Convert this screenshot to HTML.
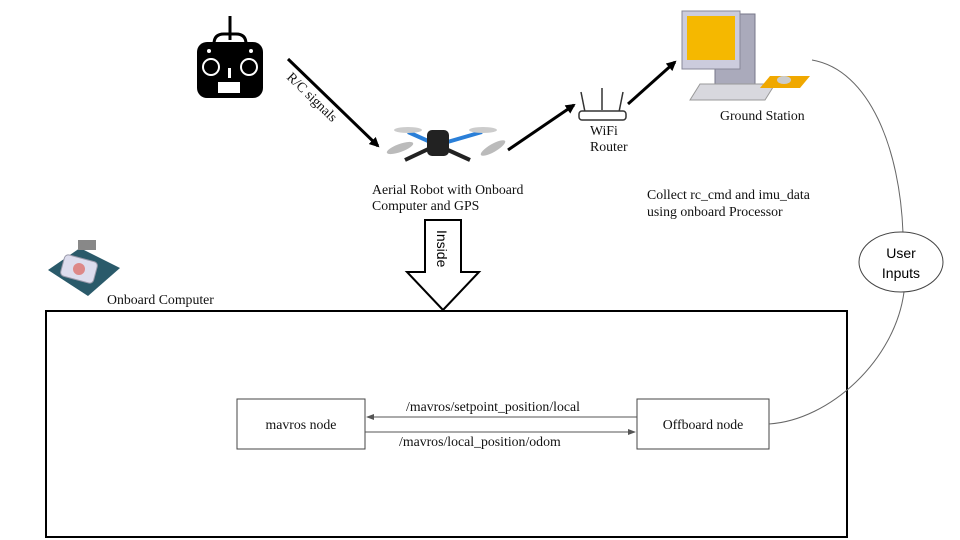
<!DOCTYPE html>
<html><head><meta charset="utf-8"><style>
body{margin:0;background:#fff;}
svg{display:block}
.s{font-family:"Liberation Serif",serif;font-size:13.8px;fill:#111}
</style></head><body>
<svg width="960" height="540" viewBox="0 0 960 540" xmlns="http://www.w3.org/2000/svg">
<defs>
<marker id="ab" markerWidth="10" markerHeight="10" refX="8" refY="5" orient="auto" markerUnits="userSpaceOnUse"><path d="M0,0 L10,5 L0,10 z" fill="#000"/></marker>
<marker id="as" markerWidth="8" markerHeight="6" refX="7" refY="3" orient="auto" markerUnits="userSpaceOnUse"><path d="M0,0 L8,3 L0,6 z" fill="#555"/></marker>
</defs>
<!-- RC controller -->
<g>
<line x1="230" y1="16" x2="230" y2="40" stroke="#000" stroke-width="3"/>
<path d="M214,44 q0,-10 10,-10 h12 q10,0 10,10" fill="none" stroke="#000" stroke-width="3"/>
<rect x="197" y="42" width="66" height="56" rx="10" fill="#000"/>
<circle cx="211" cy="67" r="8" fill="none" stroke="#fff" stroke-width="2"/>
<circle cx="249" cy="67" r="8" fill="none" stroke="#fff" stroke-width="2"/>
<rect x="218" y="82" width="22" height="11" fill="#fff"/>
<rect x="228" y="68" width="3" height="10" fill="#fff"/>
<circle cx="209" cy="51" r="2" fill="#fff"/><circle cx="251" cy="51" r="2" fill="#fff"/>
</g>
<!-- R/C arrow -->
<line x1="288" y1="59" x2="378" y2="146" stroke="#000" stroke-width="3" marker-end="url(#ab)"/>
<text class="s" transform="translate(286,78) rotate(44)" font-size="12">R/C signals</text>
<!-- drone -->
<g>
<path d="M405,160 L437,145 L470,160" stroke="#222" stroke-width="4" fill="none"/>
<path d="M408,132 L437,145 L482,132" stroke="#2a7fd8" stroke-width="4" fill="none"/>
<rect x="427" y="130" width="22" height="26" rx="5" fill="#222"/>
<ellipse cx="400" cy="148" rx="14" ry="4" fill="#bbb" transform="rotate(-20 400 148)"/>
<ellipse cx="493" cy="148" rx="14" ry="4" fill="#bbb" transform="rotate(-30 493 148)"/>
<ellipse cx="408" cy="130" rx="14" ry="3" fill="#ccc"/>
<ellipse cx="483" cy="130" rx="14" ry="3" fill="#ccc"/>
</g>
<text class="s" x="372" y="194">Aerial Robot with Onboard</text>
<text class="s" x="372" y="210">Computer and GPS</text>
<!-- arrow to router -->
<line x1="508" y1="150" x2="574" y2="105" stroke="#000" stroke-width="3" marker-end="url(#ab)"/>
<!-- router -->
<g stroke="#333" fill="none" stroke-width="1.5">
<line x1="585" y1="112" x2="581" y2="92"/><line x1="602" y1="110" x2="602" y2="88"/><line x1="619" y1="112" x2="623" y2="92"/>
<rect x="579" y="111" width="47" height="9" rx="3" fill="#fff"/>
</g>
<text class="s" x="590" y="135">WiFi</text>
<text class="s" x="590" y="151">Router</text>
<!-- arrow to ground station -->
<line x1="628" y1="104" x2="675" y2="62" stroke="#000" stroke-width="3" marker-end="url(#ab)"/>
<!-- computer -->
<g>
<rect x="715" y="14" width="40" height="70" fill="#aab" stroke="#778"/>
<rect x="682" y="11" width="58" height="58" fill="#ccd" stroke="#889"/>
<rect x="687" y="16" width="48" height="44" fill="#f5b800"/>
<path d="M700,84 L775,84 L765,100 L690,100 z" fill="#d8d8de" stroke="#999"/>
<path d="M770,76 L810,76 L800,88 L760,88 z" fill="#f0a800"/>
<ellipse cx="784" cy="80" rx="7" ry="4" fill="#ccc"/>
</g>
<text class="s" x="720" y="120">Ground Station</text>
<text class="s" x="647" y="199">Collect rc_cmd and imu_data</text>
<text class="s" x="647" y="216">using onboard Processor</text>
<!-- Inside arrow -->
<path d="M425,220 L461,220 L461,272 L479,272 L443,310 L407,272 L425,272 z" fill="#fff" stroke="#000" stroke-width="2"/>
<text transform="translate(437,230) rotate(90)" font-family="Liberation Sans,sans-serif" font-size="14" fill="#000">Inside</text>
<!-- onboard computer icon -->
<g>
<path d="M48,270 L80,248 L120,268 L88,296 z" fill="#2a5a6a"/>
<rect x="62" y="258" width="34" height="22" rx="4" fill="#dde" stroke="#99a" transform="rotate(15 79 269)"/>
<circle cx="79" cy="269" r="6" fill="#d88"/>
<rect x="78" y="240" width="18" height="10" fill="#888"/>
</g>
<text class="s" x="107" y="304">Onboard Computer</text>
<!-- main box -->
<rect x="46" y="311" width="801" height="226" fill="none" stroke="#000" stroke-width="2"/>
<rect x="237" y="399" width="128" height="50" fill="#fff" stroke="#444"/>
<text class="s" x="301" y="429" text-anchor="middle">mavros node</text>
<rect x="637" y="399" width="132" height="50" fill="#fff" stroke="#444"/>
<text class="s" x="703" y="429" text-anchor="middle">Offboard node</text>
<line x1="637" y1="417" x2="367" y2="417" stroke="#555" marker-end="url(#as)"/>
<line x1="365" y1="432" x2="635" y2="432" stroke="#555" marker-end="url(#as)"/>
<text class="s" x="406" y="411">/mavros/setpoint_position/local</text>
<text class="s" x="399" y="446">/mavros/local_position/odom</text>
<!-- curve -->
<path d="M769,424 C830,420 895,360 904,292" fill="none" stroke="#666"/>
<path d="M903,233 C900,150 870,70 812,60" fill="none" stroke="#666"/>
<ellipse cx="901" cy="262" rx="42" ry="30" fill="#fff" stroke="#444"/>
<text x="901" y="258" text-anchor="middle" font-family="Liberation Sans,sans-serif" font-size="14">User</text>
<text x="901" y="278" text-anchor="middle" font-family="Liberation Sans,sans-serif" font-size="14">Inputs</text>
</svg>
</body></html>
